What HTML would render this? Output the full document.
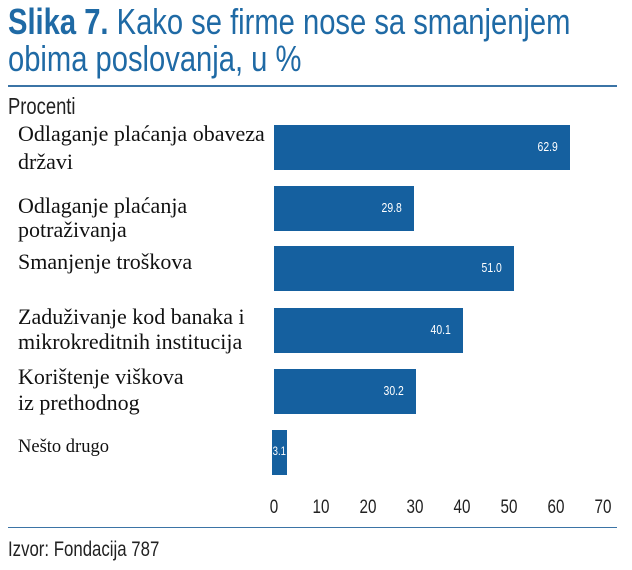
<!DOCTYPE html>
<html><head><meta charset="utf-8"><style>
body{margin:0;width:632px;height:570px;background:#fff;position:relative;overflow:hidden;font-family:"Liberation Sans",sans-serif}
.t{position:absolute;left:8px;color:#1f6aa5;font-size:36px;white-space:nowrap;line-height:1;transform:scaleX(0.81);transform-origin:0 0}
.hr{position:absolute;left:8px;width:609px;height:2px;background:#3b74a6}
.lab{position:absolute;left:18px;font-family:"Liberation Serif",serif;font-size:22px;line-height:28px;color:#111;white-space:nowrap}
.bar{position:absolute;left:274px;height:45px;background:#15609f}
.v{position:absolute;color:#fff;font-size:13px;top:14px;transform:scaleX(0.8)}
.tk{position:absolute;top:497px;font-size:19px;color:#222;transform:translateX(-50%) scaleX(0.8)}
.c{transform:scaleX(0.8);transform-origin:0 0;white-space:nowrap}
</style></head><body>
<div class="t" style="top:4px"><b>Slika 7.</b> Kako se firme nose sa smanjenjem</div>
<div class="t" style="top:41px">obima poslovanja, u %</div>
<div class="hr" style="top:85px"></div>
<div class="c" style="position:absolute;left:8px;top:93px;font-size:23px;color:#222">Procenti</div>
<div class="lab" style="top:120px">Odlaganje plaćanja obaveza<br>državi</div>
<div class="lab" style="top:194px;line-height:24px">Odlaganje plaćanja<br>potraživanja</div>
<div class="lab" style="top:248px">Smanjenje troškova</div>
<div class="lab" style="top:304px;line-height:25px">Zaduživanje kod banaka i<br>mikrokreditnih institucija</div>
<div class="lab" style="top:364px;line-height:26px">Korištenje viškova<br>iz prethodnog</div>
<div class="lab" style="top:433px;font-size:18.5px">Nešto drugo</div>
<div class="bar" style="top:125px;width:296px"><span class="v" style="right:10px">62.9</span></div>
<div class="bar" style="top:186px;width:140px"><span class="v" style="right:10px">29.8</span></div>
<div class="bar" style="top:246px;width:240px"><span class="v" style="right:10px">51.0</span></div>
<div class="bar" style="top:308px;width:189px"><span class="v" style="right:10px">40.1</span></div>
<div class="bar" style="top:369px;width:142px"><span class="v" style="right:10px">30.2</span></div>
<div class="bar" style="top:430px;left:272px;width:15px"><span class="v" style="left:-1px;font-size:12px">3.1</span></div>
<div class="tk" style="left:274px">0</div><div class="tk" style="left:321px">10</div><div class="tk" style="left:368px">20</div><div class="tk" style="left:415px">30</div><div class="tk" style="left:462px">40</div><div class="tk" style="left:509px">50</div><div class="tk" style="left:556px">60</div><div class="tk" style="left:603px">70</div>
<div class="hr" style="top:527px;height:1px"></div>
<div class="c" style="position:absolute;left:8px;top:538px;font-size:21px;color:#222">Izvor: Fondacija 787</div>
</body></html>
